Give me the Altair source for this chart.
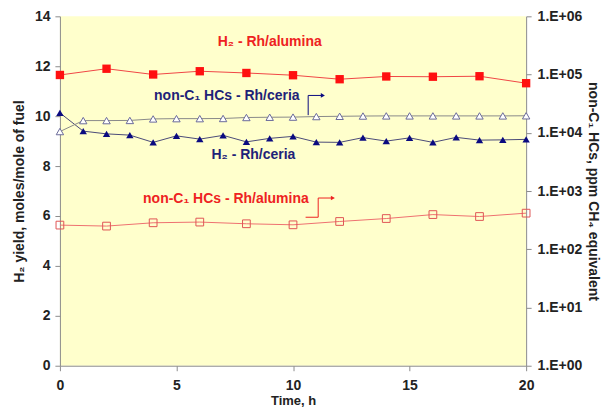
import altair as alt
import pandas as pd

# ---- data ----
hours_even = [0, 2, 4, 6, 8, 10, 12, 14, 16, 18, 20]
hours_all = list(range(21))

h2_alumina = [11.65, 11.9, 11.67, 11.8, 11.73, 11.64, 11.48, 11.59, 11.58, 11.6, 11.32]
h2_ceria = [10.13, 9.4, 9.29, 9.24, 8.95, 9.21, 9.08, 9.23, 8.97, 9.11, 9.19,
            8.96, 8.95, 9.14, 9.0, 9.13, 8.95, 9.15, 9.04, 9.05, 9.07]
hc_ceria = [10500, 16200, 16200, 16300, 17300, 17500, 17500, 17600, 18300, 18500, 18600,
            19000, 19200, 19400, 19500, 19500, 19500, 19500, 19500, 19500, 19600]
hc_alumina = [260, 250, 285, 293, 274, 263, 300, 337, 394, 365, 417]

left_ticks = [0, 2, 4, 6, 8, 10, 12, 14]
right_ticks = [1, 10, 100, 1000, 10000, 100000, 1000000]
x_ticks = [0, 5, 10, 15, 20]

# annotation labels (data units, left axis)
label_text = ["H\u2082 - Rh/alumina", "non-C\u2081 HCs - Rh/ceria", "H\u2082 - Rh/ceria", "non-C\u2081 HCs - Rh/alumina"]
label_x = [9.0, 7.16, 8.3, 7.12]
label_y = [12.97, 10.8, 8.44, 6.68]
label_color = ["#EE2222", "#1E2278", "#1E2278", "#EE2222"]

# bent arrows (data units, left axis)
arrow_ceria_x = [10.65, 10.65, 11.28]
arrow_ceria_y = [10.04, 10.83, 10.83]
arrow_alu_x = [10.54, 11.08, 11.08, 11.71]
arrow_alu_y = [5.95, 5.95, 6.72, 6.72]

RED = "#FF1010"
NAVY = "#0A0A80"
FONT = "Liberation Sans"

df_h2a = pd.DataFrame({"t": hours_even, "v": h2_alumina})
df_h2c = pd.DataFrame({"t": hours_all, "v": h2_ceria})
df_hcc = pd.DataFrame({"t": hours_all, "v": hc_ceria})
df_hca = pd.DataFrame({"t": hours_even, "v": hc_alumina})
df_lab = pd.DataFrame({"t": label_x, "v": label_y, "text": label_text, "c": label_color})
df_arc = pd.DataFrame({"t": arrow_ceria_x, "v": arrow_ceria_y, "o": list(range(len(arrow_ceria_x)))})
df_ara = pd.DataFrame({"t": arrow_alu_x, "v": arrow_alu_y, "o": list(range(len(arrow_alu_x)))})
df_headc = pd.DataFrame({"t": [arrow_ceria_x[-1]], "v": [arrow_ceria_y[-1]]})
df_heada = pd.DataFrame({"t": [arrow_alu_x[-1]], "v": [arrow_alu_y[-1]]})

xscale = alt.Scale(domain=[0, 20], nice=False)
lscale = alt.Scale(domain=[0, 14], nice=False)
rscale = alt.Scale(type="log", domain=[1, 1000000], nice=False)

AX = dict(grid=False, tickSize=5, domainColor="#8c8c8c", tickColor="#8c8c8c", labelFlush=False)
xaxis = alt.Axis(values=x_ticks, title="Time, h", labelPadding=8, titlePadding=2, titleFontSize=13, **AX)
laxis = alt.Axis(values=left_ticks, title="H\u2082 yield, moles/mole of fuel",
                 labelPadding=5, titlePadding=8, **AX)
raxis = alt.Axis(values=right_ticks, orient="right", title="non-C\u2081 HCs, ppm CH\u2084 equivalent",
                 labelPadding=6, titlePadding=4,
                 labelExpr="'1.E+0' + round(log(datum.value) / LN10)", **AX)

X = alt.X("t:Q", scale=xscale, axis=xaxis)
YL = alt.Y("v:Q", scale=lscale, axis=laxis)
YR = alt.Y("v:Q", scale=rscale, axis=raxis)

h2a_line = alt.Chart(df_h2a).mark_line(color="#F04545", strokeWidth=1).encode(x=X, y=YL)
h2a_pts = alt.Chart(df_h2a).mark_point(shape="square", filled=True, color=RED, size=70, opacity=1).encode(x=X, y=YL)
h2c_line = alt.Chart(df_h2c).mark_line(color="#4A4A78", strokeWidth=1).encode(x=X, y=YL)
h2c_pts = alt.Chart(df_h2c).mark_point(shape="triangle-up", filled=True, color=NAVY, size=55, opacity=1).encode(x=X, y=YL)

labels = alt.Chart(df_lab).mark_text(font=FONT, fontSize=14, fontWeight="bold", align="center",
                                     baseline="middle").encode(
    x=X, y=YL, text="text:N", color=alt.Color("c:N", scale=None))

arr_c = alt.Chart(df_arc).mark_line(color=NAVY, strokeWidth=1).encode(x=X, y=YL, order="o:Q")
arr_a = alt.Chart(df_ara).mark_line(color="#EE2222", strokeWidth=1).encode(x=X, y=YL, order="o:Q")
head_c = alt.Chart(df_headc).mark_point(shape="triangle-right", filled=True, color=NAVY, size=22, opacity=1).encode(x=X, y=YL)
head_a = alt.Chart(df_heada).mark_point(shape="triangle-right", filled=True, color="#EE2222", size=22, opacity=1).encode(x=X, y=YL)

hcc_line = alt.Chart(df_hcc).mark_line(color="#8a8a8a", strokeWidth=1).encode(x=X, y=YR)
hcc_pts = alt.Chart(df_hcc).mark_point(shape="triangle-up", filled=False, fill="white", fillOpacity=1,
                                       stroke="#6a6a9a", strokeWidth=1, size=55, opacity=1).encode(x=X, y=YR)
hca_line = alt.Chart(df_hca).mark_line(color="#EE7070", strokeWidth=1).encode(x=X, y=YR)
hca_pts = alt.Chart(df_hca).mark_point(shape="square", filled=False, stroke="#E05555", strokeWidth=1,
                                       size=60, opacity=1).encode(x=X, y=YR)

left = alt.layer(h2a_line, h2a_pts, h2c_line, h2c_pts, arr_c, arr_a, head_c, head_a, labels)
right = alt.layer(hcc_line, hca_line, hca_pts, hcc_pts)

chart = alt.layer(left, right).resolve_scale(y="independent").properties(
    width=467, height=350,
    padding={"left": 4, "top": 1, "right": 3, "bottom": 0},
).configure_view(stroke=None, fill="#FFFFCC").configure_axis(
    labelFont=FONT, titleFont=FONT, labelFontSize=14, titleFontSize=14,
    labelFontWeight="bold", titleFontWeight="bold", labelColor="#222222", titleColor="#222222",
)

chart.save("out.html", embed_options={"renderer": "svg", "actions": False})
